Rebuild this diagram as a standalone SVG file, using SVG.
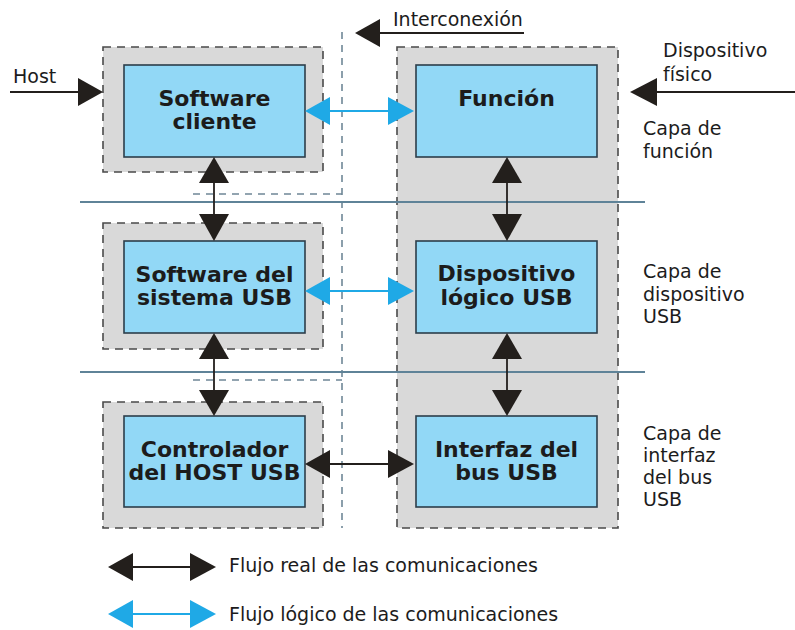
<svg xmlns="http://www.w3.org/2000/svg" width="795" height="630" viewBox="0 0 795 630">
<style>
.outer{fill:#d9d9d9;stroke:#4a4a4a;stroke-width:1.6;stroke-dasharray:8 6}
.inner{fill:#92d8f6;stroke:#2c3e4a;stroke-width:1.6}
.lbl{font-family:"DejaVu Sans",sans-serif;font-weight:bold;font-size:22px;fill:#1c1c1c;text-anchor:middle}
.txt{font-family:"DejaVu Sans",sans-serif;font-size:19px;fill:#1c1c1c}
.sep{stroke:#5f8398;stroke-width:2}
.dash{stroke:#6f8797;stroke-width:1.6;stroke-dasharray:7 6;fill:none}
.bk{stroke:#231f1c;stroke-width:1.8}
.bkh{fill:#231f1c}
.bl{stroke:#1fa9e6;stroke-width:1.8}
.blh{fill:#1fa9e6}
</style>
<rect width="795" height="630" fill="#ffffff"/>

<g id="host-col-bg">
  <rect class="outer" x="103" y="47" width="220" height="125"/>
  <rect class="outer" x="103" y="223" width="220" height="126"/>
  <rect class="outer" x="103" y="402" width="220" height="126"/>
</g>
<g id="device-col-bg">
  <rect class="outer" x="397" y="47" width="221" height="481"/>
</g>

<g id="guides">
  <line class="dash" x1="342" y1="32" x2="342" y2="528"/>
  <polyline class="dash" points="193,194 342,194"/>
  <polyline class="dash" points="193,380 342,380"/>
  <line class="sep" x1="80" y1="202" x2="645" y2="202"/>
  <line class="sep" x1="80" y1="372" x2="645" y2="372"/>
</g>

<g id="software-cliente">
  <rect class="inner" x="124" y="65" width="181" height="92"/>
  <text class="lbl" x="214.5" y="106">Software</text>
  <text class="lbl" x="214.5" y="129">cliente</text>
</g>
<g id="software-sistema">
  <rect class="inner" x="124" y="241" width="181" height="92"/>
  <text class="lbl" x="214.5" y="282">Software del</text>
  <text class="lbl" x="214.5" y="305">sistema USB</text>
</g>
<g id="controlador">
  <rect class="inner" x="124" y="416" width="181" height="91"/>
  <text class="lbl" x="214.5" y="457">Controlador</text>
  <text class="lbl" x="214.5" y="480">del HOST USB</text>
</g>
<g id="funcion">
  <rect class="inner" x="416" y="65" width="181" height="92"/>
  <text class="lbl" x="506.5" y="106">Función</text>
</g>
<g id="dispositivo-logico">
  <rect class="inner" x="416" y="241" width="181" height="92"/>
  <text class="lbl" x="506.5" y="281">Dispositivo</text>
  <text class="lbl" x="506.5" y="305">lógico USB</text>
</g>
<g id="interfaz-bus">
  <rect class="inner" x="416" y="416" width="181" height="91"/>
  <text class="lbl" x="506.5" y="457">Interfaz del</text>
  <text class="lbl" x="506.5" y="480">bus USB</text>
</g>

<g id="labels">
  <text class="txt" x="13" y="83">Host</text>
  <text class="txt" x="393" y="26">Interconexión</text>
  <text class="txt" x="663" y="57">Dispositivo</text>
  <text class="txt" x="663" y="81">físico</text>
  <text class="txt" x="643" y="135">Capa de</text>
  <text class="txt" x="643" y="158">función</text>
  <text class="txt" x="643" y="278">Capa de</text>
  <text class="txt" x="643" y="301">dispositivo</text>
  <text class="txt" x="643" y="323">USB</text>
  <text class="txt" x="643" y="440">Capa de</text>
  <text class="txt" x="643" y="462">interfaz</text>
  <text class="txt" x="643" y="484">del bus</text>
  <text class="txt" x="643" y="506">USB</text>
  <text class="txt" x="229" y="572">Flujo real de las comunicaciones</text>
  <text class="txt" x="229" y="621">Flujo lógico de las comunicaciones</text>
</g>

<g id="connectors">
  <!-- Host -->
  <line class="bk" x1="10" y1="92" x2="80" y2="92"/>
  <polygon class="bkh" points="78,78 103,92 78,106"/>
  <!-- Interconexion -->
  <line class="bk" x1="378" y1="33" x2="524" y2="33"/>
  <polygon class="bkh" points="355,33 380,19 380,47"/>
  <!-- Dispositivo fisico -->
  <line class="bk" x1="655" y1="92" x2="795" y2="92"/>
  <polygon class="bkh" points="630,92 657,78 657,106"/>

  <!-- logical row 1 -->
  <line class="bl" x1="328" y1="111" x2="390" y2="111"/>
  <polygon class="blh" points="305,111 330,97 330,125"/>
  <polygon class="blh" points="414,111 388,97 388,125"/>
  <!-- logical row 2 -->
  <line class="bl" x1="328" y1="291" x2="390" y2="291"/>
  <polygon class="blh" points="305,291 330,277 330,305"/>
  <polygon class="blh" points="414,291 388,277 388,305"/>
  <!-- real row 3 -->
  <line class="bk" x1="328" y1="464" x2="390" y2="464"/>
  <polygon class="bkh" points="305,464 330,450 330,478"/>
  <polygon class="bkh" points="414,464 388,450 388,478"/>

  <!-- left vertical -->
  <line class="bk" x1="214" y1="182" x2="214" y2="214"/>
  <polygon class="bkh" points="214,157 199,183 229,183"/>
  <polygon class="bkh" points="214,241 199,214 229,214"/>
  <line class="bk" x1="214" y1="358" x2="214" y2="391"/>
  <polygon class="bkh" points="214,333 199,359 229,359"/>
  <polygon class="bkh" points="214,416 199,390 229,390"/>
  <!-- right vertical -->
  <line class="bk" x1="507" y1="182" x2="507" y2="214"/>
  <polygon class="bkh" points="507,157 492,183 522,183"/>
  <polygon class="bkh" points="507,241 492,214 522,214"/>
  <line class="bk" x1="507" y1="358" x2="507" y2="391"/>
  <polygon class="bkh" points="507,333 492,359 522,359"/>
  <polygon class="bkh" points="507,416 492,390 522,390"/>

  <!-- legend -->
  <line class="bk" x1="131" y1="567" x2="192" y2="567"/>
  <polygon class="bkh" points="108,567 133,553 133,581"/>
  <polygon class="bkh" points="216,567 190,553 190,581"/>
  <line class="bl" x1="131" y1="614" x2="192" y2="614"/>
  <polygon class="blh" points="108,614 133,600 133,628"/>
  <polygon class="blh" points="216,614 190,600 190,628"/>
</g>
</svg>
